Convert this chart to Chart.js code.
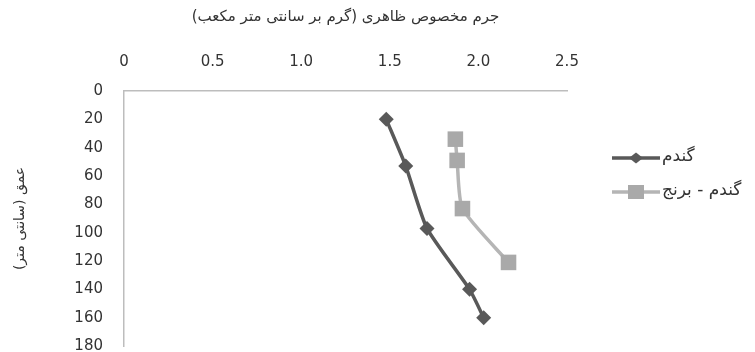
<!DOCTYPE html>
<html>
<head>
<meta charset="utf-8">
<script src="https://cdn.jsdelivr.net/npm/chart.js@4/dist/chart.umd.min.js"></script>
<style>
html,body{margin:0;padding:0;background:#fff;}
#wrap{width:755px;height:352px;position:relative;}
</style>
</head>
<body>
<div id="wrap"><canvas id="c" width="755" height="352"></canvas></div>
<script>
const xTitle = 'جرم مخصوص ظاهری (گرم بر سانتی متر مکعب)\u200F';
const yTitle = 'عمق (سانتی متر)\u200F';
const seriesNames = ['گندم', 'گندم - برنج'];
const wheatDensity = [1.48, 1.59, 1.71, 1.95, 2.03];
const wheatDepth = [20, 53, 97, 140, 160];
const wheatRiceDensity = [1.87, 1.88, 1.91, 2.17];
const wheatRiceDepth = [34, 49, 83, 121];
const xTicks = [0, 0.5, 1, 1.5, 2, 2.5];
const yTicks = [0, 20, 40, 60, 80, 100, 120, 140, 160, 180];

const toPts = (xs, ys) => xs.map((x, i) => ({x: x, y: ys[i]}));

const legendPlugin = {
  id: 'sideLegend',
  afterDraw(chart) {
    const ctx = chart.ctx;
    const rows = [158, 192];
    ctx.save();
    chart.data.datasets.forEach((ds, i) => {
      const y = rows[i];
      ctx.strokeStyle = ds.borderColor;
      ctx.lineWidth = ds.borderWidth;
      ctx.beginPath();
      ctx.moveTo(612, y);
      ctx.lineTo(660, y);
      ctx.stroke();
      ctx.fillStyle = ds.pointBackgroundColor;
      ctx.beginPath();
      if (ds.pointStyle === 'rectRot') {
        const r = 7;
        ctx.moveTo(636 - r, y); ctx.lineTo(636, y - r * 0.8);
        ctx.lineTo(636 + r, y); ctx.lineTo(636, y + r * 0.8);
        ctx.closePath();
      } else {
        ctx.rect(636 - 8, y - 7, 16, 14);
      }
      ctx.fill();
      ctx.fillStyle = '#333';
      ctx.font = '17px "DejaVu Sans", sans-serif';
      ctx.textAlign = 'left';
      ctx.textBaseline = 'middle';
      ctx.fillText(ds.label, 662, y - 1);
    });
    ctx.restore();
  }
};

new Chart(document.getElementById('c'), {
  type: 'scatter',
  data: {
    datasets: [
      {
        label: seriesNames[0],
        data: toPts(wheatDensity, wheatDepth),
        showLine: true,
        borderColor: '#595959',
        backgroundColor: '#595959',
        pointBackgroundColor: '#595959',
        pointBorderColor: '#595959',
        borderWidth: 3.5,
        pointStyle: 'rectRot',
        pointRadius: 7.5,
        pointBorderWidth: 0,
        tension: 0.2
      },
      {
        label: seriesNames[1],
        data: toPts(wheatRiceDensity, wheatRiceDepth),
        showLine: true,
        borderColor: '#b5b5b5',
        backgroundColor: '#a9a9a9',
        pointBackgroundColor: '#a9a9a9',
        pointBorderColor: '#a9a9a9',
        borderWidth: 3.5,
        pointStyle: 'rect',
        pointRadius: 11,
        pointBorderWidth: 0,
        tension: 0.2
      }
    ]
  },
  options: {
    responsive: false,
    animation: false,
    events: [],
    layout: {autoPadding: false, padding: {left: 0, right: 188, top: 2, bottom: 6}},
    plugins: {legend: {display: false}, tooltip: {enabled: false}},
    scales: {
      x: {
        type: 'linear',
        position: 'top',
        min: 0, max: 2.5,
        afterBuildTicks: s => { s.ticks = xTicks.map(v => ({value: v})); },
        afterFit: s => { s.height = 89; s.paddingLeft = 0; s.paddingRight = 0; s.paddingTop = 0; s.paddingBottom = 0; },
        grid: {display: false, drawTicks: false},
        border: {display: true, color: '#bdbdbd', width: 1.5},
        ticks: {padding: 20, color: '#333', font: {family: '"DejaVu Sans", sans-serif', size: 15}, maxRotation: 0},
        title: {display: true, text: xTitle, color: '#333', padding: {top: 6, bottom: 0}, font: {family: '"DejaVu Sans", sans-serif', size: 15}}
      },
      y: {
        type: 'linear',
        reverse: true,
        min: 0, max: 180,
        afterBuildTicks: s => { s.ticks = yTicks.map(v => ({value: v})); },
        afterFit: s => { s.width = 124; s.paddingTop = 0; s.paddingBottom = 0; },
        grid: {display: false, drawTicks: false},
        border: {display: true, color: '#bdbdbd', width: 1.5},
        ticks: {padding: 21, color: '#333', font: {family: '"DejaVu Sans", sans-serif', size: 15}},
        title: {display: true, text: yTitle, color: '#333', padding: {top: 12, bottom: 0}, font: {family: '"DejaVu Sans", sans-serif', size: 14}}
      }
    }
  },
  plugins: [legendPlugin]
});
</script>
</body>
</html>
